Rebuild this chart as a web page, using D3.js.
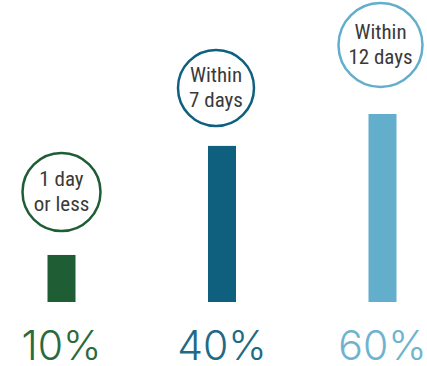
<!DOCTYPE html>
<html><head><meta charset="utf-8">
<script src="https://cdn.jsdelivr.net/npm/d3@7"></script>
<style>
html,body{margin:0;padding:0;background:#fff;}
svg{display:block;}
</style></head>
<body>
<svg id="chart" width="427" height="366"></svg>
<script>
const categories = ["1 day or less", "Within 7 days", "Within 12 days"];
const labelLines = [["1 day", "or less"], ["Within", "7 days"], ["Within", "12 days"]];
const values = [10, 40, 60];
const valueLabels = ["10%", "40%", "60%"];
const colors = ["#1f5e35", "#0f5f7f", "#63aecb"];
const textColors = ["#2a6a3d", "#1f6a86", "#6fb3cf"];

// styling for the badges
const badgeR = [39, 38, 42];
const badgeGap = [24, 20, 27];
const badgeDx = [0, -6, -2];

const svg = d3.select("#chart");
const x = d3.scalePoint().domain(categories).range([61.5, 382.5]);
const baseY = 302;
const y = d3.scaleLog().domain([5.5, 60]).range([baseY, baseY - 188]);
const barW = 28;

const g = svg.selectAll("g.item").data(categories).enter().append("g").attr("class", "item");

g.append("rect")
  .attr("x", d => x(d) - barW / 2)
  .attr("y", (d, i) => y(values[i]))
  .attr("width", barW)
  .attr("height", (d, i) => baseY - y(values[i]))
  .attr("fill", (d, i) => colors[i]);

const cyOf = i => y(values[i]) - badgeGap[i] - badgeR[i];

g.append("circle")
  .attr("cx", (d, i) => x(d) + badgeDx[i])
  .attr("cy", (d, i) => cyOf(i))
  .attr("r", (d, i) => badgeR[i])
  .attr("fill", "#fff")
  .attr("stroke", (d, i) => colors[i])
  .attr("stroke-width", 2.5);

g.each(function(d, i) {
  const cy = cyOf(i);
  const cx = x(d) + badgeDx[i];
  const t = d3.select(this).append("text")
    .attr("text-anchor", "middle")
    .attr("font-family", "'Roboto Condensed','Liberation Sans Narrow','DejaVu Sans Condensed',Roboto,sans-serif")
    .attr("font-size", 21)
    .attr("fill", "#3a3a3a");
  labelLines[i].forEach((ln, k) => {
    t.append("tspan").attr("x", cx).attr("y", cy - 6 + k * 25).text(ln);
  });
});

g.append("text")
  .attr("x", d => x(d))
  .attr("y", 360)
  .attr("text-anchor", "middle")
  .attr("font-family", "Inter, Lato, sans-serif")
  .attr("font-weight", 300)
  .attr("font-size", 41)
  .attr("fill", (d, i) => textColors[i])
  .text((d, i) => valueLabels[i]);
</script>
</body></html>
